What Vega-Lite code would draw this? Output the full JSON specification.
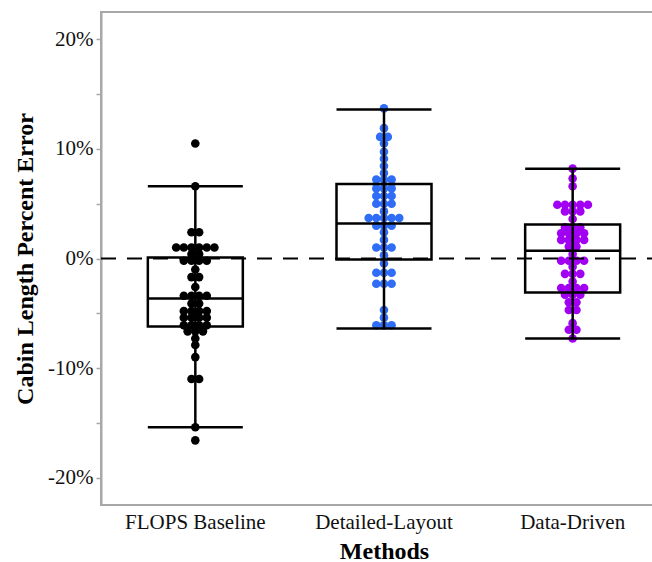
{
  "$schema": "https://vega.github.io/schema/vega-lite/v6.json",
  "autosize": "none",
  "width": 566,
  "height": 493,
  "padding": {"left": 101, "top": 12, "right": 5, "bottom": 57},
  "background": "white",
  "config": {
    "view": {"stroke": "#a8a8a8", "strokeWidth": 2},
    "font": "Liberation Serif"
  },
  "datasets": {
    "pts": [
      {"method": "FLOPS Baseline", "err": 10.5},
      {"method": "FLOPS Baseline", "err": 6.6},
      {"method": "FLOPS Baseline", "err": 2.4},
      {"method": "FLOPS Baseline", "err": 2.4},
      {"method": "FLOPS Baseline", "err": 1.0},
      {"method": "FLOPS Baseline", "err": 1.0},
      {"method": "FLOPS Baseline", "err": 1.0},
      {"method": "FLOPS Baseline", "err": 1.0},
      {"method": "FLOPS Baseline", "err": 1.0},
      {"method": "FLOPS Baseline", "err": 1.0},
      {"method": "FLOPS Baseline", "err": 0.4},
      {"method": "FLOPS Baseline", "err": 0.4},
      {"method": "FLOPS Baseline", "err": -0.2},
      {"method": "FLOPS Baseline", "err": -0.2},
      {"method": "FLOPS Baseline", "err": -0.2},
      {"method": "FLOPS Baseline", "err": -0.2},
      {"method": "FLOPS Baseline", "err": -1.0},
      {"method": "FLOPS Baseline", "err": -1.7},
      {"method": "FLOPS Baseline", "err": -1.7},
      {"method": "FLOPS Baseline", "err": -2.6},
      {"method": "FLOPS Baseline", "err": -3.4},
      {"method": "FLOPS Baseline", "err": -3.4},
      {"method": "FLOPS Baseline", "err": -3.4},
      {"method": "FLOPS Baseline", "err": -3.4},
      {"method": "FLOPS Baseline", "err": -4.1},
      {"method": "FLOPS Baseline", "err": -4.1},
      {"method": "FLOPS Baseline", "err": -4.8},
      {"method": "FLOPS Baseline", "err": -4.8},
      {"method": "FLOPS Baseline", "err": -4.8},
      {"method": "FLOPS Baseline", "err": -4.8},
      {"method": "FLOPS Baseline", "err": -5.4},
      {"method": "FLOPS Baseline", "err": -5.4},
      {"method": "FLOPS Baseline", "err": -5.4},
      {"method": "FLOPS Baseline", "err": -5.4},
      {"method": "FLOPS Baseline", "err": -6.1},
      {"method": "FLOPS Baseline", "err": -6.1},
      {"method": "FLOPS Baseline", "err": -6.1},
      {"method": "FLOPS Baseline", "err": -6.1},
      {"method": "FLOPS Baseline", "err": -6.65},
      {"method": "FLOPS Baseline", "err": -6.65},
      {"method": "FLOPS Baseline", "err": -6.65},
      {"method": "FLOPS Baseline", "err": -7.3},
      {"method": "FLOPS Baseline", "err": -7.9},
      {"method": "FLOPS Baseline", "err": -9.0},
      {"method": "FLOPS Baseline", "err": -11.0},
      {"method": "FLOPS Baseline", "err": -11.0},
      {"method": "FLOPS Baseline", "err": -15.4},
      {"method": "FLOPS Baseline", "err": -16.6},
      {"method": "Detailed-Layout", "err": 13.7},
      {"method": "Detailed-Layout", "err": 11.9},
      {"method": "Detailed-Layout", "err": 11.1},
      {"method": "Detailed-Layout", "err": 11.1},
      {"method": "Detailed-Layout", "err": 10.5},
      {"method": "Detailed-Layout", "err": 9.75},
      {"method": "Detailed-Layout", "err": 9.1},
      {"method": "Detailed-Layout", "err": 8.45},
      {"method": "Detailed-Layout", "err": 7.8},
      {"method": "Detailed-Layout", "err": 7.2},
      {"method": "Detailed-Layout", "err": 7.2},
      {"method": "Detailed-Layout", "err": 7.2},
      {"method": "Detailed-Layout", "err": 6.4},
      {"method": "Detailed-Layout", "err": 6.4},
      {"method": "Detailed-Layout", "err": 6.4},
      {"method": "Detailed-Layout", "err": 5.7},
      {"method": "Detailed-Layout", "err": 5.7},
      {"method": "Detailed-Layout", "err": 5.7},
      {"method": "Detailed-Layout", "err": 5.0},
      {"method": "Detailed-Layout", "err": 5.0},
      {"method": "Detailed-Layout", "err": 5.0},
      {"method": "Detailed-Layout", "err": 4.3},
      {"method": "Detailed-Layout", "err": 3.7},
      {"method": "Detailed-Layout", "err": 3.7},
      {"method": "Detailed-Layout", "err": 3.7},
      {"method": "Detailed-Layout", "err": 3.7},
      {"method": "Detailed-Layout", "err": 3.7},
      {"method": "Detailed-Layout", "err": 3.0},
      {"method": "Detailed-Layout", "err": 3.0},
      {"method": "Detailed-Layout", "err": 3.0},
      {"method": "Detailed-Layout", "err": 2.4},
      {"method": "Detailed-Layout", "err": 1.7},
      {"method": "Detailed-Layout", "err": 1.0},
      {"method": "Detailed-Layout", "err": 1.0},
      {"method": "Detailed-Layout", "err": 1.0},
      {"method": "Detailed-Layout", "err": 0.3},
      {"method": "Detailed-Layout", "err": -0.45},
      {"method": "Detailed-Layout", "err": -1.3},
      {"method": "Detailed-Layout", "err": -1.3},
      {"method": "Detailed-Layout", "err": -1.3},
      {"method": "Detailed-Layout", "err": -2.3},
      {"method": "Detailed-Layout", "err": -2.3},
      {"method": "Detailed-Layout", "err": -2.3},
      {"method": "Detailed-Layout", "err": -4.7},
      {"method": "Detailed-Layout", "err": -5.4},
      {"method": "Detailed-Layout", "err": -6.1},
      {"method": "Detailed-Layout", "err": -6.1},
      {"method": "Detailed-Layout", "err": -6.1},
      {"method": "Data-Driven", "err": 8.2},
      {"method": "Data-Driven", "err": 7.3},
      {"method": "Data-Driven", "err": 6.6},
      {"method": "Data-Driven", "err": 4.9},
      {"method": "Data-Driven", "err": 4.9},
      {"method": "Data-Driven", "err": 4.9},
      {"method": "Data-Driven", "err": 4.9},
      {"method": "Data-Driven", "err": 4.9},
      {"method": "Data-Driven", "err": 4.3},
      {"method": "Data-Driven", "err": 4.3},
      {"method": "Data-Driven", "err": 4.3},
      {"method": "Data-Driven", "err": 3.6},
      {"method": "Data-Driven", "err": 2.85},
      {"method": "Data-Driven", "err": 2.85},
      {"method": "Data-Driven", "err": 2.85},
      {"method": "Data-Driven", "err": 2.3},
      {"method": "Data-Driven", "err": 2.3},
      {"method": "Data-Driven", "err": 2.3},
      {"method": "Data-Driven", "err": 2.3},
      {"method": "Data-Driven", "err": 1.7},
      {"method": "Data-Driven", "err": 1.7},
      {"method": "Data-Driven", "err": 1.7},
      {"method": "Data-Driven", "err": 1.7},
      {"method": "Data-Driven", "err": 1.1},
      {"method": "Data-Driven", "err": 1.1},
      {"method": "Data-Driven", "err": 0.4},
      {"method": "Data-Driven", "err": -0.2},
      {"method": "Data-Driven", "err": -0.2},
      {"method": "Data-Driven", "err": -0.2},
      {"method": "Data-Driven", "err": -0.2},
      {"method": "Data-Driven", "err": -0.75},
      {"method": "Data-Driven", "err": -1.4},
      {"method": "Data-Driven", "err": -1.4},
      {"method": "Data-Driven", "err": -1.4},
      {"method": "Data-Driven", "err": -2.1},
      {"method": "Data-Driven", "err": -2.7},
      {"method": "Data-Driven", "err": -2.7},
      {"method": "Data-Driven", "err": -2.7},
      {"method": "Data-Driven", "err": -2.7},
      {"method": "Data-Driven", "err": -3.3},
      {"method": "Data-Driven", "err": -3.3},
      {"method": "Data-Driven", "err": -3.3},
      {"method": "Data-Driven", "err": -4.0},
      {"method": "Data-Driven", "err": -4.0},
      {"method": "Data-Driven", "err": -4.7},
      {"method": "Data-Driven", "err": -4.7},
      {"method": "Data-Driven", "err": -5.9},
      {"method": "Data-Driven", "err": -6.5},
      {"method": "Data-Driven", "err": -6.5},
      {"method": "Data-Driven", "err": -7.3}
    ],
    "stats": [
      {"method": "FLOPS Baseline", "lo": -15.4, "q1": -6.2, "med": -3.65, "q3": 0.1, "hi": 6.6},
      {"method": "Detailed-Layout", "lo": -6.4, "q1": -0.1, "med": 3.2, "q3": 6.8, "hi": 13.6},
      {"method": "Data-Driven", "lo": -7.3, "q1": -3.1, "med": 0.7, "q3": 3.1, "hi": 8.2}
    ],
    "zero": [{"ref": 0}]
  },
  "encoding": {
    "x": {
      "field": "method",
      "type": "nominal",
      "sort": ["FLOPS Baseline", "Detailed-Layout", "Data-Driven"],
      "scale": {"type": "band", "paddingInner": 0, "paddingOuter": 0, "domain": ["FLOPS Baseline", "Detailed-Layout", "Data-Driven"]},
      "axis": {
        "title": "Methods",
        "titleFont": "Liberation Serif",
        "titleFontSize": 24,
        "titleFontWeight": "bold",
        "titleColor": "#000",
        "titlePadding": 7,
        "labelFont": "Liberation Serif",
        "labelFontSize": 21,
        "labelColor": "#111",
        "labelAngle": 0,
        "labelPadding": 6,
        "ticks": false,
        "domain": false
      }
    }
  },
  "layer": [
    {
      "data": {"name": "pts"},
      "transform": [
        {"window": [{"op": "row_number", "as": "rn"}], "groupby": ["method", "err"]},
        {"joinaggregate": [{"op": "count", "as": "n"}], "groupby": ["method", "err"]},
        {"calculate": "datum.rn - (datum.n + 1) / 2", "as": "off"}
      ],
      "mark": {"type": "circle", "size": 74, "opacity": 1},
      "encoding": {
        "y": {
          "field": "err",
          "type": "quantitative",
          "scale": {"domain": [-22.5, 22.5], "nice": false, "zero": false},
          "axis": {
            "title": "Cabin Length Percent Error",
            "titleFont": "Liberation Serif",
            "titleFontSize": 24,
            "titleFontWeight": "bold",
            "titleColor": "#000",
            "titlePadding": 10,
            "labelFont": "Liberation Serif",
            "labelFontSize": 21,
            "labelColor": "#111",
            "labelPadding": 3,
            "values": [-20, -15, -10, -5, 0, 5, 10, 15, 20],
            "labelExpr": "datum.value % 10 === 0 ? datum.value + '%' : ''",
            "tickColor": "#a8a8a8",
            "tickSize": 5,
            "tickWidth": 1.5,
            "domainColor": "#a8a8a8",
            "domainWidth": 2,
            "grid": false
          }
        },
        "xOffset": {"field": "off", "type": "quantitative", "scale": {"domain": [-4, 4], "range": [63.7, 124.9]}},
        "color": {
          "field": "method",
          "type": "nominal",
          "scale": {"domain": ["FLOPS Baseline", "Detailed-Layout", "Data-Driven"], "range": ["#000000", "#2f6df6", "#a100f2"]},
          "legend": null
        }
      }
    },
    {
      "data": {"name": "stats"},
      "mark": {"type": "rule", "color": "#000", "strokeWidth": 2.5},
      "encoding": {
        "y": {"field": "lo", "type": "quantitative"},
        "y2": {"field": "hi"}
      }
    },
    {
      "data": {"name": "stats"},
      "mark": {"type": "bar", "width": 95, "fill": null, "fillOpacity": 0, "stroke": "#000", "strokeWidth": 2.5},
      "encoding": {
        "y": {"field": "q1", "type": "quantitative"},
        "y2": {"field": "q3"}
      }
    },
    {
      "data": {"name": "stats"},
      "mark": {"type": "tick", "color": "#000", "opacity": 1, "size": 95, "thickness": 2.5},
      "encoding": {"y": {"field": "med", "type": "quantitative"}}
    },
    {
      "data": {"name": "stats"},
      "mark": {"type": "tick", "color": "#000", "opacity": 1, "size": 95, "thickness": 2.5},
      "encoding": {"y": {"field": "lo", "type": "quantitative"}}
    },
    {
      "data": {"name": "stats"},
      "mark": {"type": "tick", "color": "#000", "opacity": 1, "size": 95, "thickness": 2.5},
      "encoding": {"y": {"field": "hi", "type": "quantitative"}}
    },
    {
      "data": {"name": "zero"},
      "mark": {"type": "rule", "color": "#000", "strokeWidth": 2, "strokeDash": [15, 11]},
      "encoding": {"y": {"field": "ref", "type": "quantitative"}, "x": {"value": 0}, "x2": {"value": 566}}
    }
  ]
}
